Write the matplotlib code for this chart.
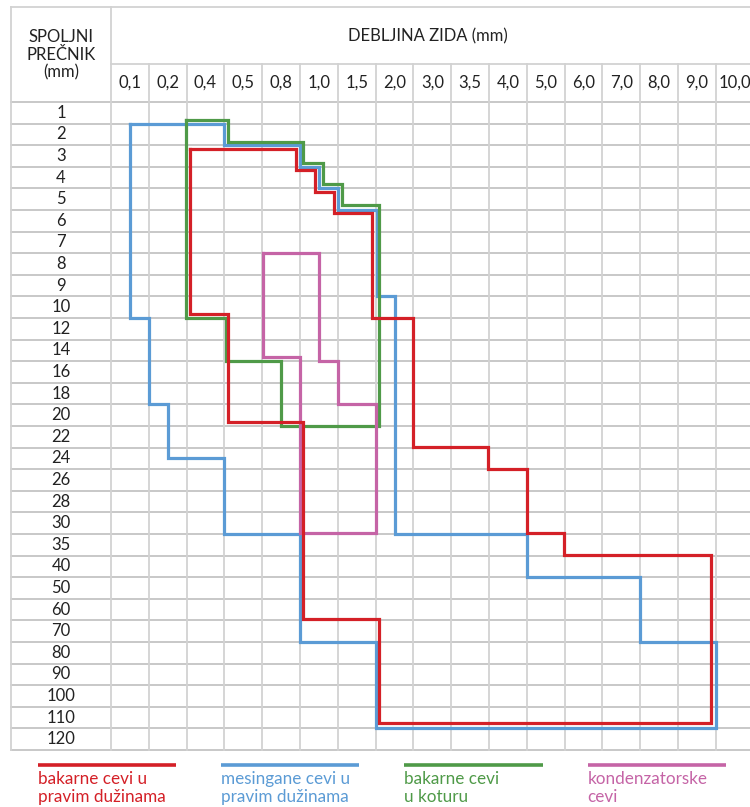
import matplotlib
matplotlib.use("Agg")
import matplotlib.pyplot as plt

plt.rcParams['font.family'] = ['Lato', 'DejaVu Sans']

# table categories
diameters = ['1', '2', '3', '4', '5', '6', '7', '8', '9', '10',
             '12', '14', '16', '18', '20', '22', '24', '26', '28', '30',
             '35', '40', '50', '60', '70', '80', '90', '100', '110', '120']
thickness = ['0,1', '0,2', '0,4', '0,5', '0,8', '1,0', '1,5', '2,0', '3,0',
             '3,5', '4,0', '5,0', '6,0', '7,0', '8,0', '9,0', '10,0']

# boundaries, in column / row units of the table
red_cols = [2.09, 4.89, 4.89, 5.40, 5.40, 5.90, 5.90, 6.90, 6.90, 7.99, 7.99, 9.97, 9.97,
            11.0, 11.0, 11.98, 11.98, 15.87, 15.87, 7.09, 7.09, 5.08, 5.08, 3.10, 3.10, 2.09, 2.09]
red_rows = [2.18, 2.18, 3.15, 3.15, 4.17, 4.17, 5.14, 5.14, 10.0, 10.0, 15.97, 15.97, 16.99,
            16.99, 19.95, 19.95, 20.97, 20.97, 28.75, 28.75, 23.94, 23.94, 14.81, 14.81, 9.81, 9.81, 2.18]

blue_cols = [0.5, 3.0, 3.0, 5.0, 5.0, 5.5, 5.5, 6.0, 6.0, 7.03, 7.03, 7.5, 7.5, 11.0, 11.0,
             14.0, 14.0, 16.0, 16.0, 7.0, 7.0, 5.0, 5.0, 3.0, 3.0, 1.5, 1.5, 1.0, 1.0, 0.5, 0.5]
blue_rows = [1.0, 1.0, 2.0, 2.0, 3.0, 3.0, 4.0, 4.0, 5.0, 5.0, 9.0, 9.0, 20.0, 20.0, 22.0,
             22.0, 25.0, 25.0, 29.0, 29.0, 25.0, 25.0, 20.0, 20.0, 16.5, 16.5, 14.0, 14.0, 10.0, 10.0, 1.0]

green_cols = [1.98, 3.10, 3.10, 5.09, 5.09, 5.60, 5.60, 6.10, 6.10, 7.09, 7.09, 4.50, 4.50,
              3.03, 3.03, 1.98, 1.98]
green_rows = [0.83, 0.83, 1.84, 1.84, 2.84, 2.84, 3.81, 3.81, 4.77, 4.77, 14.99, 14.99, 11.99,
              11.99, 10.01, 10.01, 0.83]

pink_cols = [4.03, 5.51, 5.51, 6.01, 6.01, 7.0, 7.0, 5.0, 5.0, 4.03, 4.03]
pink_rows = [7.0, 7.0, 12.0, 12.0, 14.0, 14.0, 19.97, 19.97, 11.82, 11.82, 7.0]

labels = ['bakarne cevi u\npravim dužinama', 'mesingane cevi u\npravim dužinama',
          'bakarne cevi\nu koturu', 'kondenzatorske\ncevi']
colors = ['#d42027', '#5b9bd5', '#4f9a48', '#c564a6']

# pixel layout of the table
W, H = 750, 807
X0, Y0 = 111, 102
CW, RH = 37.8, 21.6

def px(x):
    return (x - X0) / CW

def py(y):
    return (y - Y0) / RH

fig = plt.figure(figsize=(W / 100, H / 100), dpi=100)
ax = fig.add_axes([0, 0, 1, 1])
ax.set_xlim(px(0), px(W))
ax.set_ylim(py(H), py(0))
ax.axis('off')

nrow = len(diameters)
ncol = len(thickness)
x_left = px(11)
x_right = px(W + 5)
y_top = py(7)
y_mid = py(64)

hcol = '#b9b9b9'
vcol = '#d2d2d2'
# horizontal grid
for r in range(nrow + 1):
    ax.plot([x_left, x_right], [r, r], color=hcol, lw=1.1, zorder=1)
ax.plot([x_left, x_right], [y_top, y_top], color=vcol, lw=1.3, zorder=1)
ax.plot([0, x_right], [y_mid, y_mid], color=vcol, lw=1.3, zorder=1)
# vertical grid
ax.plot([x_left, x_left], [y_top, nrow], color=vcol, lw=1.3, zorder=1)
ax.plot([0, 0], [y_top, nrow], color=vcol, lw=1.3, zorder=1)
for c in range(1, ncol):
    ax.plot([c, c], [y_mid, nrow], color=vcol, lw=1.3, zorder=1)

# labels
fs = 12
for r, d in enumerate(diameters):
    ax.text(px(61), r + 0.5, d, ha='center', va='center', fontsize=fs, color='#222222')
for c, t in enumerate(thickness):
    ax.text(c + 0.5, py(83), t, ha='center', va='center', fontsize=fs, color='#222222')
ax.text(px(428), py(36), 'DEBLJINA ZIDA (mm)', ha='center', va='center', fontsize=fs,
        color='#222222')
ax.text(px(61), py(55), 'SPOLJNI\nPREČNIK\n(mm)', ha='center', va='center', fontsize=fs,
        color='#222222', linespacing=1.12)

# boundaries
series = [(blue_cols, blue_rows, colors[1]), (green_cols, green_rows, colors[2]),
          (pink_cols, pink_rows, colors[3]), (red_cols, red_rows, colors[0])]
for xs, ys, col in series:
    ax.plot(xs, ys, color=col, lw=2.3, solid_joinstyle='miter', zorder=3)

# legend
for i, (lab, col) in enumerate(zip(labels, colors)):
    lx = px(37.7) + i * 4.85
    ax.plot([lx, lx + 3.66], [py(764.5), py(764.5)], color=col, lw=2.6,
            solid_capstyle='butt')
    ax.text(lx, py(788), lab, ha='left', va='center', fontsize=12.3, color=col,
            linespacing=1.15)

fig.savefig('out.png', dpi=100)
